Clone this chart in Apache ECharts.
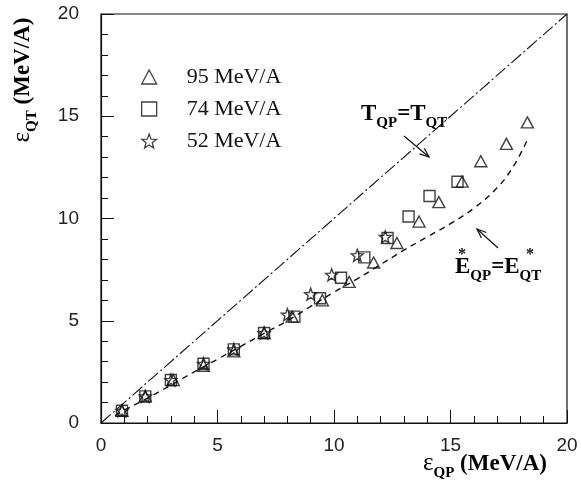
<!DOCTYPE html>
<html>
<head>
<meta charset="utf-8">
<script src="https://cdn.jsdelivr.net/npm/echarts/dist/echarts.min.js"></script>
<style>
  html, body { margin: 0; padding: 0; background: #fff; }
  #chart { width: 581px; height: 491px; }
</style>
</head>
<body>
<div id="chart"></div>
<script>
// Measured excitation energies: [eps_QP, eps_QT] in MeV/A
const series95 = [[0.9,0.6],[1.9,1.3],[3.1,2.1],[4.4,2.8],[5.7,3.5],[7.0,4.4],[8.2,5.2],[9.5,6.0],[10.65,6.9],[11.7,7.85],[12.7,8.8],[13.65,9.85],[14.5,10.8],[15.5,11.8],[16.3,12.8],[17.4,13.65],[18.3,14.7]];
const series74 = [[0.9,0.6],[1.9,1.3],[3.0,2.1],[4.4,2.9],[5.7,3.6],[7.0,4.4],[8.3,5.2],[9.4,6.1],[10.3,7.1],[11.3,8.1],[12.3,9.05],[13.2,10.1],[14.1,11.1],[15.3,11.8]];
const series52 = [[0.9,0.6],[1.9,1.3],[3.0,2.1],[4.4,2.9],[5.7,3.6],[7.0,4.4],[8.0,5.3],[9.0,6.3],[9.9,7.25],[11.0,8.2],[12.2,9.1]];

// Equal-temperature line and equal-excitation curve
const equalTemperature = [[0,0],[20,20]];
const equalExcitation = [[0.6,0.35],[1,0.62],[2,1.22],[3,1.85],[4,2.5],[5,3.12],[6,3.75],[7,4.38],[8,5.0],[9,5.7],[10,6.4],[11,7.05],[12,7.75],[13,8.45],[14,9.1],[15,9.75],[16,10.5],[17,11.5],[17.7,12.55],[18.3,13.85]];

const seriesNames = ['95 MeV/A', '74 MeV/A', '52 MeV/A'];
const xTickValues = [0, 5, 10, 15, 20];
const yTickValues = [0, 5, 10, 15, 20];

function starSymbol() {
  const pts = [];
  for (let i = 0; i < 10; i++) {
    const a = -Math.PI / 2 + i * Math.PI / 5;
    const r = i % 2 ? 0.42 : 1;
    pts.push((50 + 50 * r * Math.cos(a)).toFixed(2) + ',' + (50 + 50 * r * Math.sin(a)).toFixed(2));
  }
  return 'path://M' + pts.join('L') + 'Z';
}

const hollow = { color: 'rgba(0,0,0,0)', borderColor: '#111', borderWidth: 1.4 };
const serif = 'Liberation Serif';

function arrow(x1, y1, x2, y2) {
  const ang = Math.atan2(y2 - y1, x2 - x1);
  const len = 10, spread = 0.38;
  return [
    { type: 'line', shape: { x1, y1, x2, y2 }, style: { stroke: '#111', lineWidth: 1.2 } },
    { type: 'polyline', shape: { points: [
        [x2 - len * Math.cos(ang - spread), y2 - len * Math.sin(ang - spread)],
        [x2, y2],
        [x2 - len * Math.cos(ang + spread), y2 - len * Math.sin(ang + spread)]
      ] }, style: { stroke: '#111', lineWidth: 1.2, fill: null } }
  ];
}

const richSub = {
  m: { fontFamily: serif, fontWeight: 'bold', fontSize: 23, color: '#111', verticalAlign: 'bottom', padding: [0, 0, 5, 0] },
  g: { fontFamily: serif, fontSize: 25, color: '#111', verticalAlign: 'bottom', padding: [0, 0, 5, 0] },
  s: { fontFamily: serif, fontWeight: 'bold', fontSize: 15, color: '#111', verticalAlign: 'bottom' }
};

const chart = echarts.init(document.getElementById('chart'), null, { renderer: 'canvas' });

const axisCommon = {
  type: 'value', min: 0, max: 20, interval: 5,
  axisLine: { show: true, lineStyle: { color: '#111', width: 1.2 } },
  axisTick: { show: true, inside: true, length: 13, lineStyle: { color: '#111', width: 1 } },
  minorTick: { show: true, splitNumber: 5, length: 7, lineStyle: { color: '#111', width: 1 } },
  splitLine: { show: false },
  axisLabel: { fontFamily: 'Liberation Sans', fontSize: 19, color: '#222' }
};

chart.setOption({
  animation: false,
  backgroundColor: '#fff',
  grid: { left: 101, right: 14, top: 14, bottom: 68, show: true, borderColor: '#111', borderWidth: 1.2, backgroundColor: 'rgba(0,0,0,0)' },
  xAxis: Object.assign({}, axisCommon, {
    axisLabel: Object.assign({}, axisCommon.axisLabel, { margin: 13, customValues: xTickValues })
  }),
  yAxis: Object.assign({}, axisCommon, {
    axisLabel: Object.assign({}, axisCommon.axisLabel, { margin: 22, customValues: yTickValues })
  }),
  legend: {
    orient: 'vertical', left: 136, top: 61,
    itemWidth: 15, itemHeight: 14, itemGap: 10,
    itemStyle: { borderWidth: 1.3 },
    textStyle: { fontFamily: serif, fontSize: 22, color: '#111', lineHeight: 16, padding: [0, 0, 0, 25] },
    data: seriesNames
  },
  series: [
    { type: 'line', data: equalTemperature, showSymbol: false, symbol: 'none',
      lineStyle: { color: '#111', width: 1.1, type: [13, 3, 2, 3] }, silent: true, z: 1 },
    { type: 'line', data: equalExcitation, showSymbol: false, symbol: 'none', smooth: 0.4,
      lineStyle: { color: '#111', width: 1.4, type: [6, 5] }, silent: true, z: 1 },
    { name: seriesNames[0], type: 'scatter', data: series95, symbol: 'triangle', symbolSize: [12, 11], itemStyle: hollow, z: 3 },
    { name: seriesNames[1], type: 'scatter', data: series74, symbol: 'rect', symbolSize: 11, itemStyle: hollow, z: 3 },
    { name: seriesNames[2], type: 'scatter', data: series52, symbol: starSymbol(), symbolSize: 12, itemStyle: hollow, z: 3 }
  ],
  graphic: [
    // axis titles
    { type: 'text', left: 423, top: 451, style: { text: '{g|ε}{s|QP}{m| (MeV/A)}', rich: richSub } },
    { type: 'text', x: 25, y: 80, rotation: Math.PI / 2,
      style: { text: '{g|ε}{s|QT}{m| (MeV/A)}', rich: richSub, align: 'center', verticalAlign: 'middle' } },
    // annotations
    { type: 'text', x: 361, y: 103, style: { text: '{m|T}{s|QP}{m|=T}{s|QT}', rich: richSub } },
    { type: 'text', x: 455, y: 256, style: { text: '{m|E}{s|QP}{m|=E}{s|QT}', rich: richSub } },
    { type: 'text', x: 458, y: 247, style: { text: '*', fontFamily: serif, fontWeight: 'bold', fontSize: 16, fill: '#111' } },
    { type: 'text', x: 526, y: 247, style: { text: '*', fontFamily: serif, fontWeight: 'bold', fontSize: 16, fill: '#111' } }
  ].concat(arrow(404, 136, 429, 157)).concat(arrow(498, 248, 477, 229))
});
</script>
</body>
</html>
